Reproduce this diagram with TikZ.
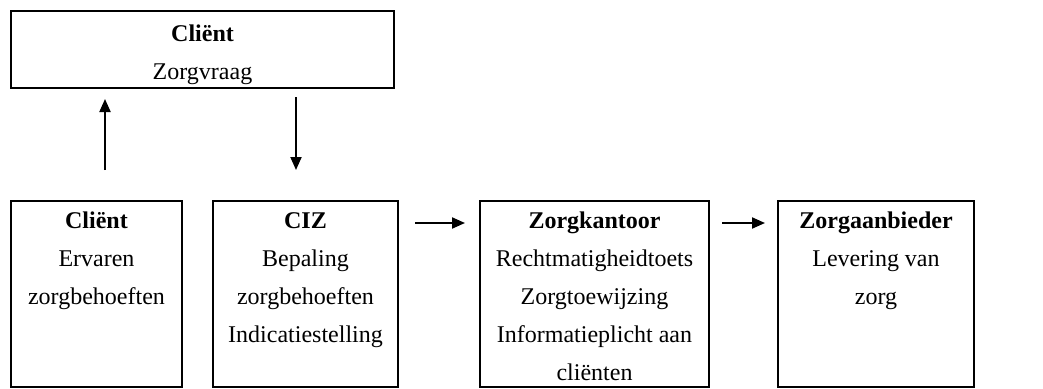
\documentclass[tikz,border=0pt]{standalone}
\usepackage{fontspec}
\setmainfont{Liberation Serif}
\usetikzlibrary{arrows.meta}
\begin{document}
\begin{tikzpicture}[x=1pt,y=-1pt,
  box/.style={draw,line width=2pt,inner sep=0pt,anchor=north west},
  txt/.style={anchor=north,align=center,inner sep=0pt,font=\fontsize{24}{38}\selectfont},
  arr/.style={-{Triangle[length=13pt,width=11pt]},line width=2pt}]
\useasboundingbox (0,0) rectangle (1043,388);
% boxes
\node[box,minimum width=383pt,minimum height=77pt] (top) at (10,10) {};
\node[box,minimum width=171pt,minimum height=186pt] (b1) at (10,200) {};
\node[box,minimum width=185pt,minimum height=186pt] (b2) at (212,200) {};
\node[box,minimum width=229pt,minimum height=186pt] (b3) at (479,200) {};
\node[box,minimum width=196pt,minimum height=186pt] (b4) at (777,200) {};
% texts
\node[txt,font=\fontsize{24}{37.5}\selectfont] (t0) at ([yshift=-15pt]top.north) {\textbf{Cliënt}\vphantom{l}\\Zorgvraag};
\node[txt] (t1) at ([yshift=-11.6pt]b1.north) {\textbf{Cliënt}\vphantom{l}\\Ervaren\\zorgbehoeften};
\node[txt] (t2) at ([yshift=-11.6pt]b2.north) {\textbf{CIZ}\vphantom{l}\\Bepaling\\zorgbehoeften\\Indicatiestelling};
\node[txt] (t3) at ([yshift=-11.6pt]b3.north) {\textbf{Zorgkantoor}\vphantom{l}\\Rechtmatigheidtoets\\Zorgtoewijzing\\Informatieplicht aan\\cliënten};
\node[txt] (t4) at ([yshift=-11.6pt]b4.north) {\textbf{Zorgaanbieder}\vphantom{l}\\Levering van\\zorg};
% arrows
\coordinate (u1) at (105,170);
\coordinate (d1) at (296,97);
\draw[arr] (u1) -- ([yshift=-10pt]top.south -| u1);
\draw[arr] (d1) -- ([yshift=30pt]b2.north -| d1);
\coordinate (h1) at (415,223);
\coordinate (h2) at (722,223);
\draw[arr] (h1) -- ([xshift=-14pt]b3.west |- h1);
\draw[arr] (h2) -- ([xshift=-12pt]b4.west |- h2);
\end{tikzpicture}
\end{document}
